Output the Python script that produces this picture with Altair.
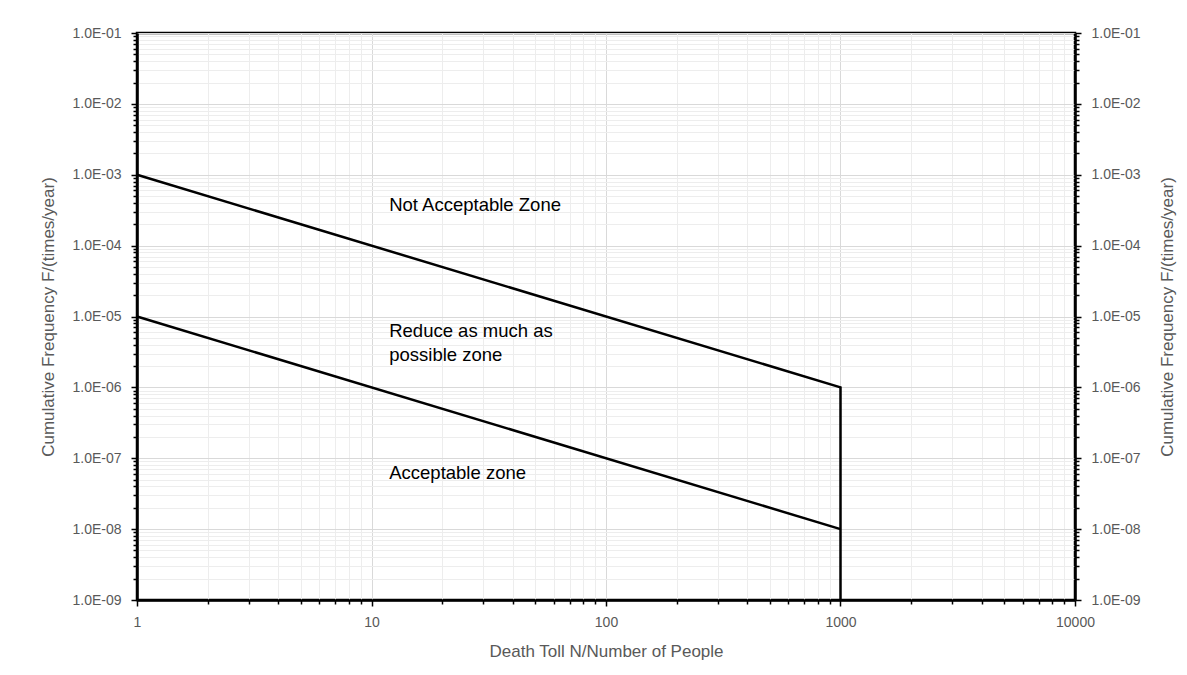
import altair as alt
import pandas as pd

# ---- data ----
upper_N = [1, 1000, 1000]
upper_F = [1e-3, 1e-6, 1e-9]
lower_N = [1, 1000]
lower_F = [1e-5, 1e-8]

zone_text = ["Not Acceptable Zone", "Reduce as much as", "possible zone", "Acceptable zone"]
zone_N = [11.9, 11.9, 11.9, 11.9]
zone_F = [3.74e-4, 6.3e-6, 2.9e-6, 6.19e-8]

x_ticks = [m * 10 ** e for e in range(4) for m in range(1, 10)] + [10000]
y_ticks = [m * 10.0 ** e for e in range(-9, -1) for m in range(1, 10)] + [0.1]

x_title = "Death Toll N/Number of People"
y_title = "Cumulative Frequency F/(times/year)"

lines_df = pd.DataFrame({
    "N": upper_N + lower_N,
    "F": upper_F + lower_F,
    "series": ["upper"] * len(upper_N) + ["lower"] * len(lower_N),
    "ord": list(range(len(upper_N))) + list(range(len(lower_N))),
})
text_df = pd.DataFrame({"N": zone_N, "F": zone_F, "label": zone_text})

FONT = "Liberation Sans"
GRAY = "#595959"
major = "abs(log(datum.value)/LN10 - round(log(datum.value)/LN10)) < 0.000001"

x_scale = alt.Scale(type="log", domain=[1, 10000], nice=False)
y_scale = alt.Scale(type="log", domain=[1e-9, 1e-1], nice=False)

x_axis = alt.Axis(
    values=x_ticks,
    labelExpr=f"({major}) ? format(datum.value, 'd') : ''",
    labelOverlap=False, labelFlush=False, labelBound=False,
    gridColor={"condition": {"test": major, "value": "#d9d9d9"}, "value": "#ededed"},
    tickSize={"condition": {"test": major, "value": 6}, "value": 4},
    tickColor="black", tickWidth=1.5,
    domainColor="black", domainWidth=2.5,
    labelColor=GRAY, labelFont=FONT, labelFontSize=14, labelPadding=9,
    titleColor=GRAY, titleFont=FONT, titleFontSize=17, titleFontWeight="normal",
    titlePadding=14,
)

def y_axis(orient, grid, pad, angle):
    return alt.Axis(
        orient=orient,
        values=y_ticks,
        labelExpr=f"({major}) ? '1.0E-0' + format(-round(log(datum.value)/LN10), 'd') : ''",
        labelOverlap=False, labelFlush=False, labelBound=False,
        grid=grid,
        gridColor={"condition": {"test": major, "value": "#d9d9d9"}, "value": "#ededed"},
        tickSize={"condition": {"test": major, "value": 6}, "value": 4},
        tickColor="black", tickWidth=1.5,
        domainColor="black", domainWidth=2.5,
        labelColor=GRAY, labelFont=FONT, labelFontSize=14, labelPadding=10,
        titleColor=GRAY, titleFont=FONT, titleFontSize=17, titleFontWeight="normal",
        titlePadding=pad, titleAngle=angle,
    )

lines = alt.Chart(lines_df).mark_line(color="black", strokeWidth=2.5, clip=False).encode(
    x=alt.X("N:Q", scale=x_scale, axis=x_axis, title=x_title),
    y=alt.Y("F:Q", scale=y_scale, axis=y_axis("left", True, 14, 270), title=y_title),
    detail="series:N",
    order="ord:Q",
)

texts = alt.Chart(text_df).mark_text(
    align="left", baseline="middle", font=FONT, fontSize=18.5, color="black"
).encode(
    x=alt.X("N:Q", scale=x_scale, axis=x_axis, title=x_title),
    y=alt.Y("F:Q", scale=y_scale, axis=y_axis("right", False, 36, 270), title=y_title),
    text="label:N",
)

chart = (
    alt.layer(lines, texts)
    .resolve_axis(y="independent")
    .properties(
        width=938, height=567,
        autosize=alt.AutoSizeParams(type="none"),
        padding={"left": 129, "top": 25, "right": 104, "bottom": 67},
        background="white",
    )
    .configure_view(stroke="black", strokeWidth=2.5)
)

chart.save("out.html", embed_options={"renderer": "svg", "actions": False})
